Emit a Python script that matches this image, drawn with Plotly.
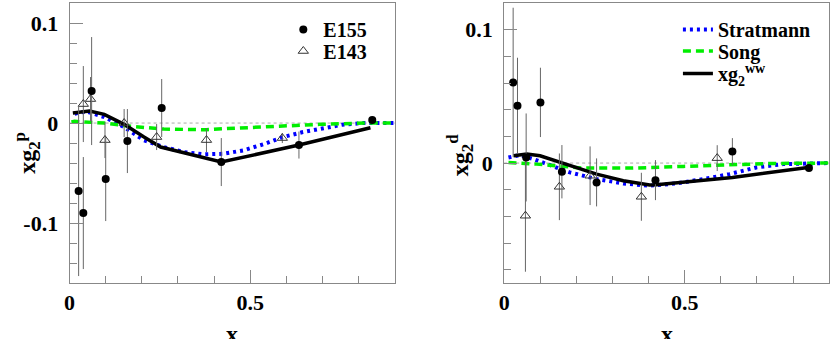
import plotly.graph_objects as go

# ---- proton panel data ----
p_e155_x = [0.025, 0.038, 0.061, 0.100, 0.160, 0.255, 0.420, 0.635, 0.838]
p_e155_y = [-0.068, -0.090, 0.032, -0.056, -0.018, 0.015, -0.039, -0.022, 0.003]
p_e155_err = [0.085, 0.056, 0.054, 0.042, 0.032, 0.029, 0.024, 0.0135, 0.003]

p_e143_x = [0.038, 0.058, 0.098, 0.151, 0.241, 0.379, 0.589]
p_e143_y = [0.019, 0.024, -0.017, 0.000, -0.014, -0.017, -0.015]
p_e143_err = [0.038, 0.022, 0.018, 0.014, 0.013, 0.012, 0.005]

p_ww_x = [0.009, 0.055, 0.096, 0.151, 0.206, 0.252, 0.420, 0.635, 0.833]
p_ww_y = [0.010, 0.012, 0.0087, -0.0013, -0.014, -0.024, -0.039, -0.022, -0.0047]

p_strat_x = [0.014, 0.046, 0.096, 0.151, 0.206, 0.261, 0.316, 0.371, 0.426, 0.481,
             0.536, 0.591, 0.646, 0.700, 0.755, 0.810, 0.900]
p_strat_y = [0.0093, 0.0117, 0.006, -0.004, -0.0173, -0.024, -0.029, -0.0313, -0.0307,
             -0.0273, -0.0213, -0.014, -0.009, -0.005, -0.0017, 0.0, 0.0]

p_song_x = [0.005, 0.014, 0.096, 0.170, 0.261, 0.379, 0.426, 0.554, 0.692, 0.820, 0.900]
p_song_y = [0.001, 0.0017, 0.0, -0.0033, -0.006, -0.0067, -0.0057, -0.0033, -0.0013, 0.0, 0.0]

# ---- deuteron panel data ----
d_e155_x = [0.025, 0.037, 0.061, 0.1005, 0.160, 0.256, 0.419, 0.632, 0.844]
d_e155_y = [0.0605, 0.043, 0.0042, 0.0455, -0.0065, -0.0145, -0.0128, 0.0087, -0.0038]
d_e155_err = [0.056, 0.036, 0.033, 0.026, 0.020, 0.018, 0.015, 0.010, 0.002]

d_e143_x = [0.059, 0.153, 0.238, 0.380, 0.590]
d_e143_y = [-0.0395, -0.0178, -0.0095, -0.0253, 0.0037]
d_e143_err = [0.042, 0.025, 0.022, 0.018, 0.0097]

d_ww_x = [0.026, 0.063, 0.0995, 0.155, 0.210, 0.256, 0.330, 0.403, 0.422, 0.632, 0.841]
d_ww_y = [0.0055, 0.0067, 0.0055, 0.0005, -0.0045, -0.0083, -0.0133, -0.0165, -0.0163,
          -0.0108, -0.0033]

d_strat_x = [0.012, 0.044, 0.081, 0.127, 0.182, 0.256, 0.330, 0.403, 0.477, 0.551,
             0.624, 0.698, 0.772, 0.900]
d_strat_y = [0.0042, 0.006, 0.003, -0.0015, -0.007, -0.012, -0.0153, -0.017, -0.0153,
             -0.012, -0.0083, -0.0033, -0.0008, 0.0]

d_song_x = [0.012, 0.090, 0.219, 0.357, 0.496, 0.588, 0.740, 0.900]
d_song_y = [0.0005, -0.0008, -0.0038, -0.0038, -0.0025, -0.0015, -0.0003, 0.0]

FONT = 'Liberation Serif, Times New Roman, serif'
BLUE = '#0000ff'
GREEN = '#00ee00'
ERRC = '#666666'
AXC = '#888888'

fig = go.Figure()


def add_panel(xa, ya, strat, song, ww, e155, e143, legends):
    # legends: (stratmann, song, ww, e155, e143) legend ids or None
    fig.add_trace(go.Scatter(x=strat[0], y=strat[1], xaxis=xa, yaxis=ya, mode='lines',
                             name='Stratmann', legend=legends[0] or 'legend',
                             showlegend=legends[0] is not None,
                             line=dict(color=BLUE, width=4, dash='3px,4px')))
    fig.add_trace(go.Scatter(x=song[0], y=song[1], xaxis=xa, yaxis=ya, mode='lines',
                             name='Song', legend=legends[1] or 'legend',
                             showlegend=legends[1] is not None,
                             line=dict(color=GREEN, width=3.5, dash='8px,5px')))
    fig.add_trace(go.Scatter(x=ww[0], y=ww[1], xaxis=xa, yaxis=ya, mode='lines',
                             name='xg<sub>2</sub><sup>ww</sup>', legend=legends[2] or 'legend',
                             showlegend=legends[2] is not None,
                             line=dict(color='black', width=3.5)))
    fig.add_trace(go.Scatter(x=e143[0], y=e143[1], xaxis=xa, yaxis=ya, mode='markers',
                             name='E143', legend=legends[4] or 'legend',
                             showlegend=legends[4] is not None,
                             error_y=dict(type='data', array=e143[2], color=ERRC,
                                          thickness=1, width=0),
                             marker=dict(symbol='triangle-up-open', size=9, color='#333333',
                                         line=dict(width=1))))
    fig.add_trace(go.Scatter(x=e155[0], y=e155[1], xaxis=xa, yaxis=ya, mode='markers',
                             name='E155', legend=legends[3] or 'legend',
                             showlegend=legends[3] is not None,
                             error_y=dict(type='data', array=e155[2], color=ERRC,
                                          thickness=1, width=0),
                             marker=dict(symbol='circle', size=8, color='black')))


add_panel('x', 'y', (p_strat_x, p_strat_y), (p_song_x, p_song_y), (p_ww_x, p_ww_y),
          (p_e155_x, p_e155_y, p_e155_err), (p_e143_x, p_e143_y, p_e143_err),
          (None, None, None, 'legend', 'legend2'))
add_panel('x2', 'y2', (d_strat_x, d_strat_y), (d_song_x, d_song_y), (d_ww_x, d_ww_y),
          (d_e155_x, d_e155_y, d_e155_err), (d_e143_x, d_e143_y, d_e143_err),
          ('legend3', 'legend4', 'legend5', None, None))

tickfont = dict(family=FONT, size=22, color='black', weight='bold')


def xaxis(domain, anchor):
    return dict(domain=domain, anchor=anchor, range=[0, 0.9], tickmode='array',
                tickvals=[0, 0.5], ticktext=['0', '0.5'], ticks='inside', ticklen=13,
                tickcolor=AXC, tickfont=tickfont, showgrid=False, zeroline=False,
                showline=True, linecolor=AXC, linewidth=1, mirror=True,
                minor=dict(tickmode='linear', tick0=0, dtick=0.1, ticks='inside',
                           ticklen=7, tickcolor=AXC))


def yaxis(rng, tv, tt, anchor):
    return dict(domain=[0.165, 0.991], anchor=anchor, range=rng, tickmode='array',
                tickvals=tv, ticktext=tt, ticks='inside', ticklen=13, tickcolor=AXC,
                tickfont=tickfont, showgrid=False, zeroline=False, showline=True,
                linecolor=AXC, linewidth=1, mirror=True, ticklabelstandoff=6,
                minor=dict(tickmode='linear', tick0=0, dtick=0.02, ticks='inside',
                           ticklen=7, tickcolor=AXC))


legfont = dict(family=FONT, size=20, color='black', weight='bold')


def leg(xpx, ypx):
    return dict(x=xpx / 830, y=1 - ypx / 339, xanchor='left', yanchor='middle',
                bgcolor='rgba(0,0,0,0)', font=legfont, borderwidth=0)


fig.update_layout(
    width=830, height=339,
    margin=dict(l=0, r=0, t=0, b=0),
    paper_bgcolor='white', plot_bgcolor='white',
    showlegend=True,
    xaxis=xaxis([0.0783, 0.4723], 'y'),
    yaxis=yaxis([-0.16, 0.12], [-0.1, 0, 0.1], ['-0.1', '0', '0.1'], 'x'),
    xaxis2=xaxis([0.605, 0.999], 'y2'),
    yaxis2=yaxis([-0.09, 0.12], [0, 0.1], ['0', '0.1'], 'x2'),
    legend=leg(280, 29.5),
    legend2=leg(280, 51),
    legend3=leg(677, 29.5),
    legend4=leg(677, 51),
    legend5=leg(677, 73.5),
    shapes=[
        dict(type='line', xref='x domain', yref='y', x0=0, x1=1, y0=0, y1=0,
             line=dict(color='#aaaaaa', width=1, dash='dot'), layer='below'),
        dict(type='line', xref='x2 domain', yref='y2', x0=0, x1=1, y0=0, y1=0,
             line=dict(color='#aaaaaa', width=1, dash='dot'), layer='below'),
    ],
    annotations=[
        dict(text='<b>x</b>', xref='x domain', yref='paper', x=0.5, y=0.015,
             xanchor='center', yanchor='middle', showarrow=False,
             font=dict(family=FONT, size=24, color='black')),
        dict(text='<b>x</b>', xref='x2 domain', yref='paper', x=0.5, y=0.015,
             xanchor='center', yanchor='middle', showarrow=False,
             font=dict(family=FONT, size=24, color='black')),
        dict(text='<b>xg<sub>2</sub><sup>p</sup></b>', xref='paper', yref='paper',
             x=22 / 830, y=1 - 153 / 339, xanchor='center', yanchor='middle',
             textangle=-90, showarrow=False, font=dict(family=FONT, size=24, color='black')),
        dict(text='<b>xg<sub>2</sub><sup>d</sup></b>', xref='paper', yref='paper',
             x=458 / 830, y=1 - 155 / 339, xanchor='center', yanchor='middle',
             textangle=-90, showarrow=False, font=dict(family=FONT, size=24, color='black')),
    ],
)

fig.write_html("out.html", config={'displayModeBar': False},
               post_script="document.body.style.margin='0';")
